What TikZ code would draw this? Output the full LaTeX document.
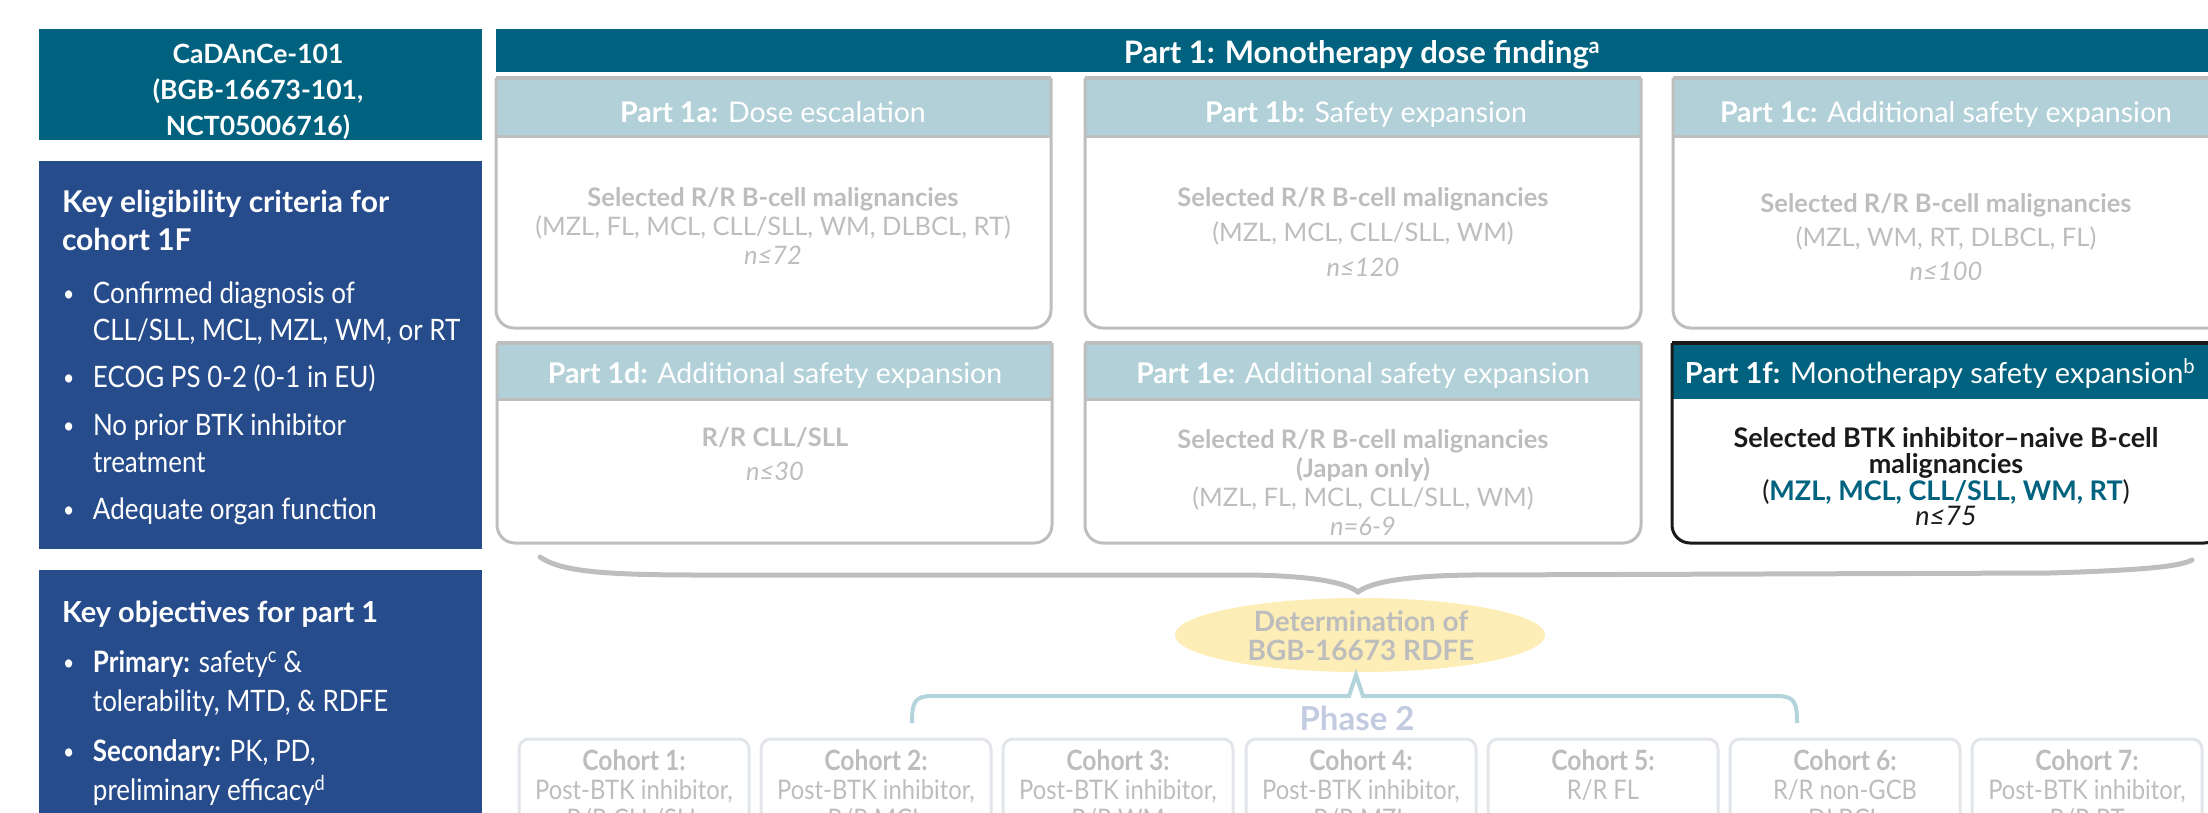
\documentclass[tikz,border=0pt]{standalone}
\usepackage{fontspec}
\setmainfont{Lato}
\newfontfamily\narrow{Lato}[FakeStretch=0.88]
\usetikzlibrary{shapes.geometric}
\definecolor{teal1}{HTML}{00627F}
\definecolor{navy}{HTML}{274C8C}
\definecolor{hdr}{HTML}{B2D0D8}
\definecolor{gline}{HTML}{BEBEBE}
\definecolor{gtxt}{HTML}{BDBDBD}
\definecolor{yel}{HTML}{FDEDB6}
\definecolor{ph}{HTML}{C2CBE0}
\definecolor{cbord}{HTML}{E2E6EA}
\definecolor{tealbr}{HTML}{B4D4DB}
\definecolor{dark}{HTML}{1A1A1A}
\newcommand\fsz[2]{\fontsize{#1}{#2}\selectfont}
\newcommand\tc[1]{\begin{tabular}[t]{@{}c@{}}#1\end{tabular}}
\newcommand\tlft[1]{\begin{tabular}[t]{@{}l@{}}#1\end{tabular}}
\newcommand\bul{\makebox[30pt][l]{\raisebox{2pt}{\fsz{22}{22}\textbullet}}}
\newcommand\ind{\hspace*{30pt}}
\newcommand\pbox[5]{%
 \fill[hdr] (#1,#3) rectangle (#2,#4);
 \draw[gline, line width=3pt, rounded corners=18pt] (#1,#3) -- (#1,#5) -- (#2,#5) -- (#2,#3);
 \draw[gline, line width=4pt] (#1,#3) -- (#2,#3);
 \draw[gline, line width=3pt] (#1,#4) -- (#2,#4);
}
\newcommand\cohort[4]{%
 \node[draw=cbord, line width=3pt, rounded corners=10pt, minimum width=230pt, minimum height=140pt, anchor=north west] (#1box) at (#2,739) {};
 \node[cotxt] (#1) at ({#2+115},770) {\tc{{\fsz{28}{29}\bfseries #3}\\#4}};
}
\tikzset{
 htxt/.style={anchor=base, text=white, font=\fsz{28.5}{34}},
 btxt/.style={anchor=base, text=gtxt},
 cotxt/.style={anchor=base, text=gtxt, font=\narrow\fsz{27}{29}},
}
\begin{document}
\begin{tikzpicture}[x=1pt,y=-1pt, every node/.style={inner sep=0pt, outer sep=0pt}]
\useasboundingbox (0,0) rectangle (2208,812);
\clip (0,0) rectangle (2208,812);

% ---------- left column ----------
\node[fill=teal1, minimum width=443pt, minimum height=111pt, anchor=north west] (study) at (39,29) {};
\node[anchor=base, text=white, font=\fsz{26.5}{36}\bfseries] (studyt) at (258,63) {\tc{CaDAnCe-101\\(BGB-16673-101,\\NCT05006716)}};

\node[fill=navy, minimum width=443pt, minimum height=388pt, anchor=north west] (elig) at (39,161) {};
\node[anchor=base west, text=white, font=\fsz{30}{38}\bfseries] (eligt) at (62,212) {\tlft{Key eligibility criteria for\\cohort 1F}};
\node[anchor=base west, text=white, font=\narrow\fsz{29.5}{37}] (eligb) at (63,303) {\tlft{\bul Confirmed diagnosis of\\ \ind CLL/SLL, MCL, MZL, WM, or RT\\[10pt] \bul ECOG PS 0-2 (0-1 in EU)\\[11pt] \bul No prior BTK inhibitor\\ \ind treatment\\[10pt] \bul Adequate organ function}};

\node[fill=navy, minimum width=443pt, minimum height=260pt, anchor=north west] (obj) at (39,570) {};
\node[anchor=base west, text=white, font=\fsz{29}{38}\bfseries] (objt) at (62,622) {Key objectives for part 1};
\node[anchor=base west, text=white, font=\narrow\fsz{29.5}{39}] (objb) at (63,672) {\tlft{\bul\textbf{Primary:} safety\textsuperscript{c} \&\\ \ind tolerability, MTD, \& RDFE\\[11pt] \bul\textbf{Secondary:} PK, PD,\\ \ind preliminary efficacy\textsuperscript{d}}};

% ---------- part 1 bar ----------
\node[fill=teal1, minimum width=1730pt, minimum height=43pt, anchor=north west] (p1) at (496,29) {};
\node[anchor=base, text=white, font=\fsz{31}{34}\bfseries] (p1t) at (1362,63) {Part 1: Monotherapy dose finding\textsuperscript{a}};

% ---------- row 1 ----------
\pbox{496}{1051}{78}{136}{328}
\pbox{1085}{1641}{78}{136}{328}
\pbox{1673}{2228}{78}{136}{328}
\node[htxt] (h1a) at (773,122) {\textbf{Part 1a:} Dose escalation};
\node[htxt] (h1b) at (1366,122) {\textbf{Part 1b:} Safety expansion};
\node[htxt] (h1c) at (1946,122) {\textbf{Part 1c:} Additional safety expansion};
\node[btxt, font=\fsz{25.5}{29}] (b1a) at (773,206) {\tc{\bfseries Selected R/R B-cell malignancies\\(MZL, FL, MCL, CLL/SLL, WM, DLBCL, RT)\\\itshape n≤72}};
\node[btxt, font=\fsz{25.5}{35}] (b1b) at (1363,206) {\tc{\bfseries Selected R/R B-cell malignancies\\(MZL, MCL, CLL/SLL, WM)\\\itshape n≤120}};
\node[btxt, font=\fsz{25.5}{34}] (b1c) at (1946,212) {\tc{\bfseries Selected R/R B-cell malignancies\\(MZL, WM, RT, DLBCL, FL)\\\itshape n≤100}};

% ---------- row 2 ----------
\pbox{497}{1052}{343}{399}{543}
\pbox{1085}{1641}{343}{399}{543}
\fill[teal1] (1672,343) rectangle (2222,399);
\draw[dark, line width=3pt, rounded corners=18pt] (1672,343) -- (1672,543) -- (2222,543) -- (2222,343);
\draw[dark, line width=4pt] (1672,343) -- (2222,343);
\node[htxt] (h1d) at (775,383) {\textbf{Part 1d:} Additional safety expansion};
\node[htxt] (h1e) at (1363,383) {\textbf{Part 1e:} Additional safety expansion};
\node[htxt, font=\fsz{29}{34}] (h1f) at (1940,383) {\textbf{Part 1f:} Monotherapy safety expansion\textsuperscript{b}};
\node[btxt, font=\fsz{25.5}{34}] (b1d) at (775,446) {\tc{\bfseries R/R CLL/SLL\\\itshape n≤30}};
\node[btxt, font=\fsz{25.5}{29}] (b1e) at (1363,448) {\tc{\bfseries Selected R/R B-cell malignancies\\\bfseries (Japan only)\\(MZL, FL, MCL, CLL/SLL, WM)\\\itshape n=6-9}};
\node[anchor=base, text=dark, font=\fsz{27}{20}] (b1f) at (1946,447) {\tc{\bfseries Selected BTK inhibitor--naive B-cell\\\bfseries malignancies\\(\textcolor{teal1}{\bfseries MZL, MCL, CLL/SLL, WM, RT})\\\itshape n≤75}};

% ---------- brace to RDFE ----------
\node[ellipse, fill=yel, minimum width=370pt, minimum height=74pt] (rdfe) at (1360,635) {};
\node[anchor=base, text=gtxt, font=\fsz{28}{29}\bfseries] (rdfet) at (1361,631) {\tc{Determination of\\BGB-16673 RDFE}};
\coordinate (btip) at (1358,592);
\draw[gline, line width=5pt, line cap=round] (540,557) .. controls (560,571) and (600,575) .. (700,575) -- (1250,575) .. controls (1320,576) and (1348,584) .. (btip) .. controls (1368,584) and (1396,576) .. (1470,575) -- (2050,573) .. controls (2150,570) and (2180,566) .. (2192,560);

% ---------- phase 2 brace ----------
\coordinate (ttip) at (1356,675);
\draw[tealbr, line width=4pt] (912,723) .. controls (912,703) and (914,696) .. (932,696) -- (1349,696) -- (ttip) -- (1363,696) -- (1777,696) .. controls (1795,696) and (1797,703) .. (1797,723);
\node[anchor=base, text=ph, font=\fsz{33}{33}\bfseries] (ph2) at (1357,730) {Phase 2};

% ---------- cohorts ----------
\cohort{c1}{519}{Cohort 1:}{Post-BTK inhibitor,\\R/R CLL/SLL}
\cohort{c2}{761}{Cohort 2:}{Post-BTK inhibitor,\\R/R MCL}
\cohort{c3}{1003}{Cohort 3:}{Post-BTK inhibitor,\\R/R WM}
\cohort{c4}{1246}{Cohort 4:}{Post-BTK inhibitor,\\R/R MZL}
\cohort{c5}{1488}{Cohort 5:}{R/R FL}
\cohort{c6}{1730}{Cohort 6:}{R/R non-GCB\\DLBCL}
\cohort{c7}{1972}{Cohort 7:}{Post-BTK inhibitor,\\R/R RT}
\end{tikzpicture}
\end{document}
